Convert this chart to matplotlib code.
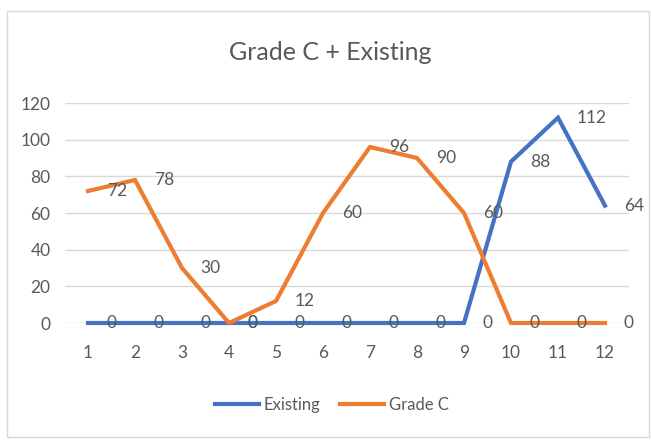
import matplotlib
matplotlib.use("Agg")
import matplotlib.pyplot as plt
from matplotlib.patches import Rectangle

plt.rcParams['font.family'] = ['Lato', 'DejaVu Sans']

months = [1, 2, 3, 4, 5, 6, 7, 8, 9, 10, 11, 12]
existing = [0, 0, 0, 0, 0, 0, 0, 0, 0, 88, 112, 64]
grade_c = [72, 78, 30, 0, 12, 60, 96, 90, 60, 0, 0, 0]
y_ticks = [0, 20, 40, 60, 80, 100, 120]

BLUE = '#4472C4'
ORANGE = '#ED7D31'
TEXT = '#595959'
GRID = '#D9D9D9'

fig = plt.figure(figsize=(6.51, 4.40), dpi=100)
fig.patch.set_facecolor('white')

# light outer frame around the chart area
fig.patches.append(Rectangle((7 / 651, 3 / 440), 642 / 651, 426 / 440,
                             transform=fig.transFigure, fill=False,
                             edgecolor=GRID, linewidth=1.0))

ax = fig.add_axes([64.5 / 651, 1 - 323 / 440, 564 / 651, 220 / 440])

ax.plot(months, existing, color=BLUE, linewidth=3.0, label='Existing',
        clip_on=False, solid_joinstyle='miter', zorder=3)
ax.plot(months, grade_c, color=ORANGE, linewidth=3.0, label='Grade C',
        clip_on=False, solid_joinstyle='miter', zorder=4)

for series in (existing, grade_c):
    for x, v in zip(months, series):
        ax.annotate(str(v), (x, v), xytext=(13.5, 0), textcoords='offset points',
                    ha='left', va='center', fontsize=12.5, color=TEXT, zorder=5)

ax.set_xlim(0.5, 12.5)
ax.set_ylim(0, 120)
ax.set_xticks(months)
ax.set_xticklabels([str(m) for m in months])
ax.set_yticks(y_ticks)
ax.set_yticklabels([str(t) for t in y_ticks])
ax.tick_params(axis='both', length=0, labelsize=12.5, labelcolor=TEXT)
ax.tick_params(axis='x', pad=16)
ax.tick_params(axis='y', pad=10)
ax.yaxis.grid(True, color=GRID, linewidth=1.0)
ax.set_axisbelow(True)
for s in ax.spines.values():
    s.set_visible(False)

fig.text(330 / 651, 1 - 52 / 440, 'Grade C + Existing', ha='center', va='center',
         fontsize=18, color=TEXT)

fig.legend(loc='center', bbox_to_anchor=(332 / 651, 1 - 405 / 440), ncol=2,
           frameon=False, fontsize=12, labelcolor=TEXT, handlelength=2.6,
           handletextpad=0.3, columnspacing=1.2)

fig.savefig('out.png', dpi=100)
